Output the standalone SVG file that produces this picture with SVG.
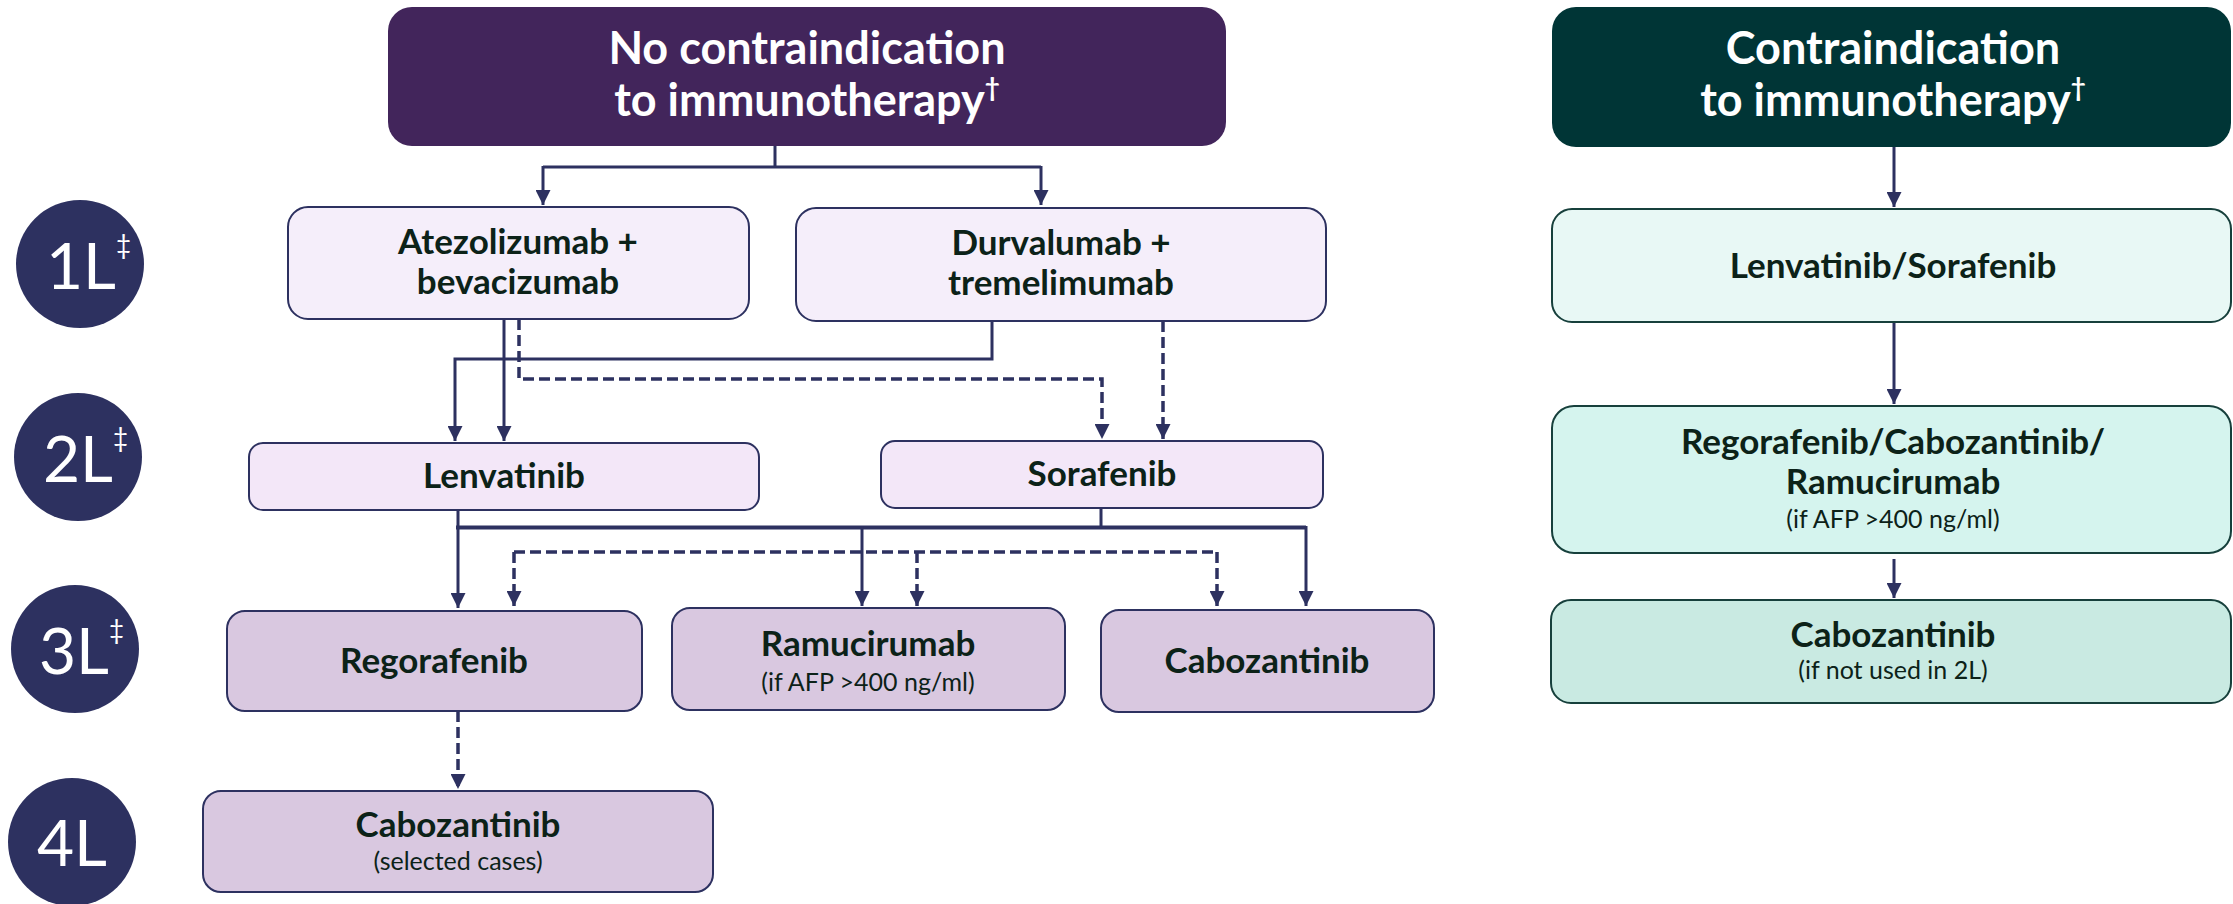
<svg xmlns="http://www.w3.org/2000/svg" width="2233" height="904" viewBox="0 0 2233 904">
<defs>
<style>
text{font-family:Lato,"Open Sans","Liberation Sans",sans-serif;text-anchor:middle}
.t{font-weight:700;font-size:45px;fill:#ffffff}
.sup{font-size:26px}
.b{font-weight:700;font-size:35px;fill:#0c2218}
.s{font-weight:400;font-size:25px;fill:#0c2218}
.lvl{font-weight:400;font-size:64px;fill:#ffffff;text-anchor:start}
.lsup{font-size:26px}
.n1{fill:#f5eefa;stroke:#2d3160;stroke-width:2}
.n2{fill:#f3e7f8;stroke:#2d3160;stroke-width:2}
.n3{fill:#d9c8e0;stroke:#2d3160;stroke-width:2}
.g1{fill:#e8f8f5;stroke:#17403c;stroke-width:2}
.g2{fill:#d5f4ee;stroke:#17403c;stroke-width:2}
.g3{fill:#c9eae2;stroke:#17403c;stroke-width:2}
.c{fill:none;stroke:#2d3160;stroke-width:3}
.d{fill:none;stroke:#2d3160;stroke-width:3.5;stroke-dasharray:11 5}
.a{marker-end:url(#ah)}
.circ{fill:#2d3160}
</style>
<marker id="ah" markerUnits="userSpaceOnUse" markerWidth="15" markerHeight="15" refX="15" refY="7.5" orient="auto">
<path d="M0,0 L15,7.5 L0,15 z" fill="#2d3160"/>
</marker>
</defs>
<rect width="2233" height="904" fill="#ffffff"/>

<g id="connectors">
<path class="c" d="M775,146 V167 M543,167 H1041"/>
<path class="c a" d="M543,166 V205"/>
<path class="c a" d="M1041,166 V205"/>
<path class="c a" d="M504,319 V441"/>
<path class="d a" d="M519,319 V379 H1102 V439"/>
<path class="c a" d="M992,321 V359 H455 V441"/>
<path class="d a" d="M1163,321 V439"/>
<path class="c" d="M458,510 V528 M1101,508 V528"/>
<path class="c" style="stroke-width:4" d="M456,527.5 H1306"/>
<path class="c a" d="M458,526 V608"/>
<path class="c a" d="M862,526 V606"/>
<path class="c a" d="M1306,526 V606"/>
<path class="d" d="M514,552 H1217"/>
<path class="d a" d="M514,552 V606"/>
<path class="d a" d="M917,552 V606"/>
<path class="d a" d="M1217,552 V606"/>
<path class="d a" d="M458,711 V789"/>
<path class="c a" d="M1894,147 V207"/>
<path class="c a" d="M1894,322 V404"/>
<path class="c a" d="M1894,559 V598"/>
</g>

<g id="lvl1"><circle class="circ" cx="80" cy="264" r="64"/><text class="lvl" x="46" y="289">1L<tspan class="lsup" dy="-35">‡</tspan></text></g>
<g id="lvl2"><circle class="circ" cx="78" cy="457" r="64"/><text class="lvl" x="43" y="482">2L<tspan class="lsup" dy="-35">‡</tspan></text></g>
<g id="lvl3"><circle class="circ" cx="75" cy="649" r="64"/><text class="lvl" x="39" y="674">3L<tspan class="lsup" dy="-35">‡</tspan></text></g>
<g id="lvl4"><circle class="circ" cx="72" cy="842" r="64"/><text class="lvl" x="37" y="866">4L</text></g>

<g id="noContra">
<rect x="388" y="7" width="838" height="139" rx="24" fill="#42255b"/>
<text class="t" x="807" y="64">No contraindication</text>
<text class="t" x="807" y="116">to immunotherapy<tspan class="sup" dy="-19">†</tspan></text>
</g>

<g id="contra">
<rect x="1552" y="7" width="679" height="140" rx="24" fill="#003536"/>
<text class="t" x="1893" y="64">Contraindication</text>
<text class="t" x="1893" y="116">to immunotherapy<tspan class="sup" dy="-19">†</tspan></text>
</g>

<g id="atezo">
<rect class="n1" x="288" y="207" width="461" height="112" rx="20"/>
<text class="b" x="518" y="254">Atezolizumab +</text>
<text class="b" x="518" y="294">bevacizumab</text>
</g>

<g id="durva">
<rect class="n1" x="796" y="208" width="530" height="113" rx="20"/>
<text class="b" x="1061" y="255">Durvalumab +</text>
<text class="b" x="1061" y="295">tremelimumab</text>
</g>

<g id="lenva">
<rect class="n2" x="249" y="443" width="510" height="67" rx="14"/>
<text class="b" x="504" y="488">Lenvatinib</text>
</g>

<g id="sora">
<rect class="n2" x="881" y="441" width="442" height="67" rx="14"/>
<text class="b" x="1102" y="486">Sorafenib</text>
</g>

<g id="rego">
<rect class="n3" x="227" y="611" width="415" height="100" rx="18"/>
<text class="b" x="434" y="673">Regorafenib</text>
</g>

<g id="ramu">
<rect class="n3" x="672" y="608" width="393" height="102" rx="18"/>
<text class="b" x="868" y="656">Ramucirumab</text>
<text class="s" x="868" y="691">(if AFP &gt;400 ng/ml)</text>
</g>

<g id="cabo3">
<rect class="n3" x="1101" y="610" width="333" height="102" rx="18"/>
<text class="b" x="1267" y="673">Cabozantinib</text>
</g>

<g id="cabo4">
<rect class="n3" x="203" y="791" width="510" height="101" rx="18"/>
<text class="b" x="458" y="837">Cabozantinib</text>
<text class="s" x="458" y="870">(selected cases)</text>
</g>

<g id="lenvaSora">
<rect class="g1" x="1552" y="209" width="679" height="113" rx="20"/>
<text class="b" x="1893" y="278">Lenvatinib/Sorafenib</text>
</g>

<g id="regoCaboRamu">
<rect class="g2" x="1552" y="406" width="679" height="147" rx="22"/>
<text class="b" x="1893" y="454">Regorafenib/Cabozantinib/</text>
<text class="b" x="1893" y="494">Ramucirumab</text>
<text class="s" x="1893" y="528">(if AFP &gt;400 ng/ml)</text>
</g>

<g id="caboR">
<rect class="g3" x="1551" y="600" width="680" height="103" rx="20"/>
<text class="b" x="1893" y="647">Cabozantinib</text>
<text class="s" x="1893" y="679">(if not used in 2L)</text>
</g>
</svg>
